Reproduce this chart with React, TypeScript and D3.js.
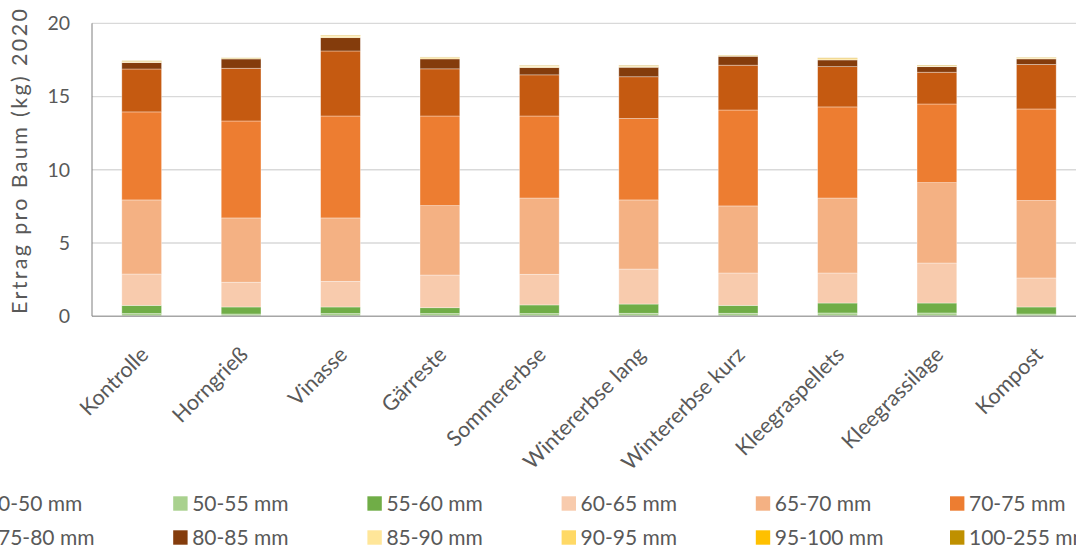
import React from "react";
import * as d3 from "d3";

const categories = ["Kontrolle", "Horngrieß", "Vinasse", "Gärreste", "Sommererbse", "Wintererbse lang", "Wintererbse kurz", "Kleegraspellets", "Kleegrassilage", "Kompost"];
const seriesNames = ["0-50 mm", "50-55 mm", "55-60 mm", "60-65 mm", "65-70 mm", "70-75 mm", "75-80 mm", "80-85 mm", "85-90 mm", "90-95 mm", "95-100 mm", "100-255 mm"];
const seriesColors = ["#C5E0B4", "#A9D18E", "#70AD47", "#F8CBAD", "#F4B183", "#ED7D31", "#C55A11", "#843C0C", "#FFE699", "#FFD966", "#FFC000", "#BF9000"];

const s0_50 = [0.02, 0.02, 0.02, 0.02, 0.02, 0.02, 0.02, 0.02, 0.02, 0.02];
const s50_55 = [0.16, 0.13, 0.16, 0.16, 0.16, 0.18, 0.18, 0.2, 0.2, 0.13];
const s55_60 = [0.56, 0.48, 0.45, 0.4, 0.59, 0.63, 0.54, 0.68, 0.68, 0.48];
const s60_65 = [2.14, 1.69, 1.75, 2.23, 2.09, 2.39, 2.21, 2.05, 2.73, 1.98];
const s65_70 = [5.06, 4.39, 4.33, 4.74, 5.21, 4.72, 4.58, 5.12, 5.49, 5.29];
const s70_75 = [6.01, 6.62, 6.96, 6.12, 5.6, 5.56, 6.55, 6.22, 5.37, 6.25];
const s75_80 = [2.93, 3.6, 4.44, 3.22, 2.81, 2.85, 3.06, 2.75, 2.17, 3.04];
const s80_85 = [0.44, 0.64, 0.91, 0.68, 0.5, 0.65, 0.61, 0.46, 0.38, 0.38];
const s85_90 = [0.05, 0.01, 0.1, 0.09, 0.08, 0.04, 0.04, 0.02, 0.03, 0.07];
const s90_95 = [0.02, 0.02, 0.04, 0.01, 0.02, 0.03, 0.01, 0.03, 0.02, 0.01];
const s95_100 = [0.01, 0.01, 0.02, 0.01, 0.01, 0.01, 0.01, 0.06, 0.02, 0.01];
const s100_255 = [0.04, 0.03, 0.02, 0.02, 0.03, 0.04, 0.02, 0.03, 0.03, 0.02];

const seriesValues = [s0_50, s50_55, s55_60, s60_65, s65_70, s70_75, s75_80, s80_85, s85_90, s90_95, s95_100, s100_255];
const yTicks = [0, 5, 10, 15, 20];
const yTitle = "Ertrag pro Baum (kg) 2020";

const W = 1076;
const H = 545;
const plot = { left: 92, right: 1086, top: 23.3, bottom: 316.2 };
const FONT = "Lato, 'Open Sans', sans-serif";
const TXT = "#595959";

export default function App() {
  const x = d3.scaleBand<string>().domain(categories).range([plot.left, plot.right]).paddingInner(0.6).paddingOuter(0.3);
  const y = d3.scaleLinear().domain([0, 20]).range([plot.bottom, plot.top]);

  const rows = categories.map((c, i) => {
    const r: any = { cat: c };
    seriesNames.forEach((s, k) => (r[s] = seriesValues[k][i]));
    return r;
  });
  const stacked = d3.stack().keys(seriesNames)(rows);

  const legendRows = [503.5, 537.5];
  const legendCols = 6;
  const colStep = 194.2;
  const colStart = -21;

  return (
    <svg width={W} height={H} style={{ position: "fixed", left: 0, top: 0, background: "#fff" }} fontFamily={FONT}>
      <rect width={W} height={H} fill="#fff" />
      {yTicks.filter((t) => t > 0).map((t) => (
        <line key={t} x1={plot.left} x2={plot.right} y1={y(t)} y2={y(t)} stroke="#D9D9D9" strokeWidth={1.3} />
      ))}
      {stacked.map((layer, k) => (
        <g key={k} fill={seriesColors[k]}>
          {layer.map((d, i) => (
            <rect
              key={i}
              x={x(categories[i])}
              width={x.bandwidth()}
              y={y(d[1])}
              height={Math.max(0, y(d[0]) - y(d[1]))}
              stroke="#fff"
              strokeOpacity={0.45}
              strokeWidth={0.75}
            />
          ))}
        </g>
      ))}
      <line x1={plot.left} x2={plot.right} y1={plot.bottom} y2={plot.bottom} stroke="#A6A6A6" strokeWidth={1.6} />
      <line x1={plot.left} x2={plot.left} y1={plot.top} y2={plot.bottom} stroke="#7F7F7F" strokeWidth={1} />
      {yTicks.map((t) => (
        <text key={t} x={70} y={y(t)} dy="0.35em" textAnchor="end" fontSize={19.5} fill={TXT}>
          {t}
        </text>
      ))}
      <text transform={`translate(27,161.5) rotate(-90)`} textAnchor="middle" fontSize={21.5} fill={TXT} textLength={305} lengthAdjust="spacing">
        {yTitle}
      </text>
      {categories.map((c) => {
        const cx = (x(c) as number) + x.bandwidth() / 2;
        return (
          <text key={c} transform={`translate(${cx + 8},356) rotate(-45)`} textAnchor="end" fontSize={21.5} fill={TXT}>
            {c}
          </text>
        );
      })}
      {seriesNames.map((s, k) => {
        const row = Math.floor(k / legendCols);
        const col = k % legendCols;
        const sx = colStart + col * colStep;
        const cy = legendRows[row];
        return (
          <g key={s}>
            <rect x={sx} y={cy - 7.2} width={14.4} height={14.4} fill={seriesColors[k]} />
            <text x={sx + 19} y={cy} dy="0.36em" fontSize={21} fill={TXT}>
              {s}
            </text>
          </g>
        );
      })}
    </svg>
  );
}
